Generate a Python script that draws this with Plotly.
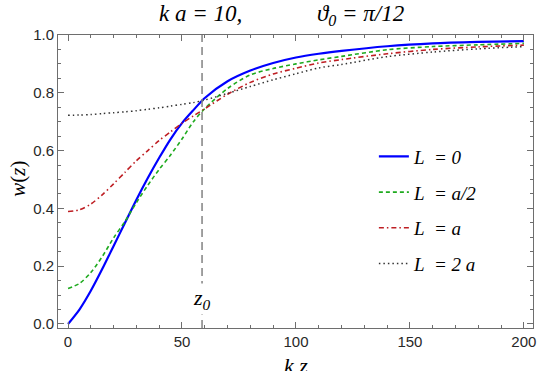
import plotly.graph_objects as go

# ---- data ----
kz = [0, 5, 10, 15, 20, 25, 30, 35, 40, 45, 50, 55, 60, 70, 80, 90, 100, 110, 120, 140, 160, 180, 200]
w_L0 = [0.0, 0.05, 0.115, 0.19, 0.27, 0.35, 0.43, 0.505, 0.575, 0.64, 0.695, 0.74, 0.782, 0.84, 0.877, 0.903, 0.922, 0.935, 0.945, 0.961, 0.971, 0.976, 0.979]
w_Lhalf = [0.123, 0.14, 0.178, 0.233, 0.298, 0.355, 0.42, 0.48, 0.535, 0.585, 0.64, 0.70, 0.745, 0.815, 0.862, 0.884, 0.90, 0.914, 0.926, 0.949, 0.96, 0.966, 0.971]
w_La = [0.389, 0.395, 0.415, 0.447, 0.485, 0.525, 0.565, 0.60, 0.635, 0.665, 0.695, 0.72, 0.745, 0.795, 0.836, 0.865, 0.885, 0.903, 0.915, 0.935, 0.95, 0.959, 0.965]
w_L2a = [0.722, 0.723, 0.725, 0.728, 0.731, 0.734, 0.738, 0.743, 0.748, 0.754, 0.76, 0.766, 0.775, 0.798, 0.822, 0.845, 0.866, 0.886, 0.898, 0.925, 0.941, 0.952, 0.96]
Z0 = 58.8

x_ticks = [0, 50, 100, 150, 200]
y_ticks = [0.0, 0.2, 0.4, 0.6, 0.8, 1.0]
y_tick_labels = ["0.0", "0.2", "0.4", "0.6", "0.8", "1.0"]

series = [
    ("<i>L</i>\u00a0\u00a0<i>= 0</i>", w_L0, "rgb(0,0,255)", "solid", 2.2),
    ("<i>L</i>\u00a0\u00a0<i>= a/2</i>", w_Lhalf, "rgb(30,170,30)", "4px,3px", 1.6),
    ("<i>L</i>\u00a0\u00a0<i>= a</i>", w_La, "rgb(190,30,35)", "5px,3px,1.5px,3px", 1.6),
    ("<i>L</i>\u00a0\u00a0<i>= 2 a</i>", w_L2a, "rgb(50,50,50)", "1.5px,3px", 1.5),
]

SERIF = "Liberation Serif, Times New Roman, serif"
SANS = "Liberation Sans, Arial, sans-serif"

fig = go.Figure()
for i, (name, ys, color, dash, width) in enumerate(series):
    fig.add_trace(go.Scatter(
        x=kz, y=ys, mode="lines", name=name, legendgroup=f"g{i}",
        line=dict(color=color, dash=dash, width=width, shape="spline", smoothing=0.8),
    ))

fig.add_vline(x=Z0, line=dict(color="rgb(130,130,130)", width=1.5, dash="8px,5px"))

axis_common = dict(
    automargin=False,
    showgrid=False, zeroline=False, showline=True, linecolor="rgb(110,110,110)", linewidth=1,
    mirror="allticks", ticks="inside", ticklen=6, tickcolor="rgb(110,110,110)", tickwidth=1,
    tickfont=dict(family=SANS, size=15, color="rgb(40,40,40)"),
)

fig.update_layout(
    template="none",
    width=538, height=371,
    margin=dict(l=58, r=5, t=35, b=43),
    paper_bgcolor="white", plot_bgcolor="white",
    showlegend=True,
    legend=dict(
        x=0.665, y=0.65, xanchor="left", yanchor="top",
        font=dict(family=SERIF, size=19, color="black"),
        bgcolor="rgba(0,0,0,0)", traceorder="grouped", tracegroupgap=8,
    ),
    xaxis=dict(range=[-4.4, 204], tickvals=x_ticks,
               minor=dict(dtick=10, tick0=0, ticks="inside", ticklen=3, tickcolor="rgb(110,110,110)"),
               **axis_common),
    yaxis=dict(range=[-0.014, 1.0], tickvals=y_ticks, ticktext=y_tick_labels,
               minor=dict(dtick=0.05, tick0=0, ticks="inside", ticklen=3, tickcolor="rgb(110,110,110)"),
               **axis_common),
)

fig.add_annotation(
    text="<i>k a = 10,</i>" + "\u00a0" * 13 + "<i>\u03d1<sub>0</sub> = \u03c0/12</i>",
    xref="paper", yref="paper", x=0.47, y=1.068, xanchor="center", yanchor="middle",
    showarrow=False, font=dict(family=SERIF, size=23, color="black"),
)
fig.add_annotation(
    text="<i>w</i>(<i>z</i>)", textangle=-90,
    xref="paper", yref="paper", x=-0.086, y=0.51, xanchor="center", yanchor="middle",
    showarrow=False, font=dict(family=SERIF, size=21, color="black"),
)
fig.add_annotation(
    text="<i>k z</i>",
    xref="paper", yref="paper", x=0.5, y=-0.078, xanchor="center", yanchor="top",
    showarrow=False, font=dict(family=SERIF, size=22, color="black"),
)
fig.add_annotation(
    text="<i>z<sub>0</sub></i>",
    x=Z0, y=0.085, xref="x", yref="y", xanchor="center", yanchor="middle",
    showarrow=False, bgcolor="white", font=dict(family=SERIF, size=22, color="black"),
)

fig.write_html("out.html", config={"displayModeBar": False},
               post_script="document.body.style.margin='0';")
